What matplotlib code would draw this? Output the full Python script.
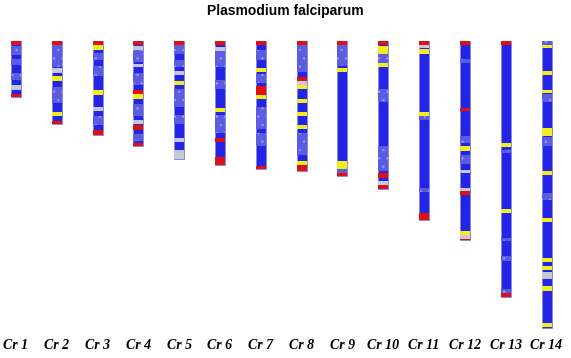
import matplotlib
matplotlib.use('Agg')  # headless
import matplotlib.pyplot as plt

# chromosome names and lengths (Mb)
chrom_names = ["Cr 1", "Cr 2", "Cr 3", "Cr 4", "Cr 5", "Cr 6", "Cr 7",
               "Cr 8", "Cr 9", "Cr 10", "Cr 11", "Cr 12", "Cr 13", "Cr 14"]
chrom_lengths = [0.64, 0.95, 1.07, 1.20, 1.35, 1.42, 1.46,
                 1.48, 1.54, 1.69, 2.05, 2.27, 2.93, 3.28]

# bands per chromosome: (start Mb, end Mb, type)
# L = light blue, Y = yellow, R = red, W = white/grey
cr1 = [(0.0, 0.05, 'R'), (0.06, 0.16, 'L'), (0.20, 0.27, 'L'), (0.36, 0.44, 'L'),
       (0.50, 0.56, 'W'), (0.61, 0.64, 'R')]
cr2 = [(0.0, 0.05, 'R'), (0.05, 0.30, 'L'), (0.31, 0.37, 'W'), (0.40, 0.46, 'Y'),
       (0.53, 0.71, 'L'), (0.81, 0.86, 'Y'), (0.91, 0.95, 'R')]
cr3 = [(0.0, 0.04, 'R'), (0.05, 0.10, 'Y'), (0.14, 0.22, 'L'), (0.28, 0.40, 'L'),
       (0.56, 0.62, 'Y'), (0.75, 0.80, 'W'), (0.86, 0.96, 'L'), (1.02, 1.07, 'R')]
cr4 = [(0.0, 0.04, 'R'), (0.06, 0.10, 'W'), (0.10, 0.24, 'L'), (0.26, 0.30, 'W'),
       (0.36, 0.50, 'L'), (0.56, 0.61, 'R'), (0.61, 0.66, 'Y'), (0.72, 0.86, 'L'),
       (0.90, 0.95, 'W'), (0.96, 1.02, 'R'), (1.06, 1.14, 'L'), (1.16, 1.20, 'R')]
cr5 = [(0.0, 0.04, 'R'), (0.04, 0.15, 'L'), (0.22, 0.30, 'L'), (0.34, 0.39, 'W'),
       (0.46, 0.50, 'Y'), (0.55, 0.75, 'L'), (0.85, 0.95, 'L'), (1.11, 1.15, 'W'),
       (1.25, 1.35, 'W')]
cr6 = [(0.0, 0.04, 'R'), (0.07, 0.11, 'W'), (0.11, 0.30, 'L'), (0.45, 0.55, 'L'),
       (0.77, 0.81, 'Y'), (0.85, 1.05, 'L'), (1.11, 1.15, 'R'), (1.32, 1.42, 'R')]
cr7 = [(0.0, 0.04, 'R'), (0.10, 0.22, 'L'), (0.31, 0.35, 'Y'), (0.38, 0.48, 'L'),
       (0.51, 0.62, 'R'), (0.62, 0.66, 'Y'), (0.75, 1.00, 'L'), (1.05, 1.20, 'L'),
       (1.43, 1.46, 'R')]
cr8 = [(0.0, 0.04, 'R'), (0.04, 0.35, 'L'), (0.41, 0.46, 'R'), (0.46, 0.50, 'W'),
       (0.50, 0.55, 'Y'), (0.66, 0.71, 'Y'), (0.81, 0.86, 'Y'), (0.96, 1.00, 'Y'),
       (1.05, 1.30, 'L'), (1.37, 1.42, 'Y'), (1.42, 1.48, 'R')]
cr9 = [(0.0, 0.04, 'R'), (0.04, 0.28, 'L'), (0.31, 0.35, 'Y'), (1.37, 1.46, 'Y'),
       (1.46, 1.51, 'L'), (1.51, 1.54, 'R')]
cr10 = [(0.0, 0.04, 'R'), (0.06, 0.15, 'Y'), (0.15, 0.25, 'L'), (0.25, 0.30, 'Y'),
        (0.55, 0.70, 'L'), (1.20, 1.48, 'L'), (1.51, 1.56, 'R'), (1.60, 1.65, 'W'),
        (1.65, 1.69, 'R')]
cr11 = [(0.0, 0.04, 'R'), (0.05, 0.08, 'W'), (0.09, 0.15, 'Y'), (0.81, 0.86, 'Y'),
        (0.86, 0.90, 'L'), (1.68, 1.72, 'L'), (1.96, 2.05, 'R')]
cr12 = [(0.0, 0.04, 'R'), (0.20, 0.25, 'L'), (0.76, 0.80, 'R'), (1.08, 1.16, 'L'),
        (1.20, 1.26, 'Y'), (1.30, 1.40, 'L'), (1.47, 1.51, 'W'), (1.68, 1.71, 'W'),
        (1.71, 1.76, 'R'), (2.17, 2.22, 'Y'), (2.22, 2.26, 'W'), (2.26, 2.27, 'R')]
cr13 = [(0.0, 0.04, 'R'), (1.17, 1.21, 'Y'), (1.24, 1.28, 'L'), (1.92, 1.97, 'Y'),
        (2.25, 2.29, 'L'), (2.46, 2.51, 'L'), (2.84, 2.88, 'L'), (2.88, 2.93, 'R')]
cr14 = [(0.0, 0.04, 'L'), (0.05, 0.08, 'Y'), (0.34, 0.39, 'Y'), (0.56, 0.59, 'Y'),
        (0.61, 0.70, 'L'), (0.99, 1.09, 'Y'), (1.10, 1.20, 'L'), (1.49, 1.53, 'Y'),
        (1.74, 1.82, 'L'), (2.02, 2.07, 'Y'), (2.48, 2.52, 'Y'), (2.57, 2.62, 'Y'),
        (2.64, 2.72, 'W'), (2.80, 2.86, 'Y'), (3.22, 3.27, 'Y')]
bands = [cr1, cr2, cr3, cr4, cr5, cr6, cr7, cr8, cr9, cr10, cr11, cr12, cr13, cr14]

colors = {'B': '#2424e8', 'L': '#5c5ce2', 'Y': '#f2ee1e', 'R': '#e01010', 'W': '#c8c8dc'}

plt.rcParams['hatch.linewidth'] = 0.5
plt.rcParams['hatch.color'] = '#9a9aee'

fig = plt.figure(figsize=(5.71, 3.58), dpi=100)
ax = fig.add_axes([0, 0, 1, 1])

width = 0.245
for i, (length, blist) in enumerate(zip(chrom_lengths, bands)):
    ax.bar(i, length, bottom=0, width=width, color=colors['B'],
           edgecolor='#8a8ad0', linewidth=0.6)
    for start, end, kind in blist:
        hatch = '..' if kind == 'L' else None
        ax.bar(i, end - start, bottom=start, width=width, color=colors[kind],
               linewidth=0, hatch=hatch)
    ax.text(i, 3.475, chrom_names[i], ha='center', va='center',
            fontsize=10, fontweight='bold', style='italic',
            family='Liberation Serif')

ax.text(6.6, -0.345, "Plasmodium falciparum", ha='center', va='center',
        fontsize=10, fontweight='bold', family='Liberation Sans')

ax.set_xlim(-0.392, 13.60)
ax.set_ylim(3.623, -0.469)
ax.axis('off')

fig.savefig('out.png', dpi=100, facecolor='white')
